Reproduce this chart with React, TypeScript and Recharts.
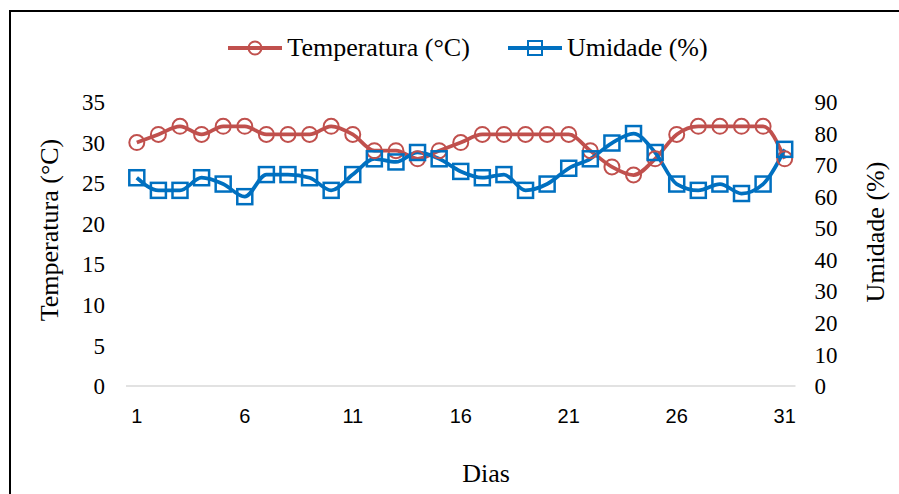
import React from 'react';
import { LineChart, Line, XAxis, YAxis, Legend } from 'recharts';

const days = ['1','2','3','4','5','6','7','8','9','10','11','12','13','14','15','16','17','18','19','20','21','22','23','24','25','26','27','28','29','30','31'];
const temperatura = [30,31,32,31,32,32,31,31,31,32,31,29,29,28,29,30,31,31,31,31,31,29,27,26,28,31,32,32,32,32,28];
const umidade = [66,62,62,66,64,60,67,67,66,62,67,72,71,74,72,68,66,67,62,64,69,72,77,80,74,64,62,64,61,64,75];
const tempTicks = [0,5,10,15,20,25,30,35];
const umidTicks = [0,10,20,30,40,50,60,70,80,90];

const data = days.map((d, i) => ({ dia: d, temperatura: temperatura[i], umidade: umidade[i] }));

const RED = '#C0504D';
const BLUE = '#0070C0';
const SERIF = '"Liberation Serif", "Times New Roman", serif';
const SANS = '"Liberation Sans", Arial, sans-serif';

const SquareDot = (props: any) => {
  const { cx, cy, index } = props;
  if (cx == null || cy == null) return <g key={`sq-${index}`} />;
  return (
    <rect key={`sq-${index}`} x={cx - 7.5} y={cy - 7.5} width={15} height={15}
      fill="none" stroke={BLUE} strokeWidth={2.5} />
  );
};

const renderLegend = () => (
  <div style={{ display: 'flex', justifyContent: 'center', alignItems: 'center', fontFamily: SERIF, fontSize: 26, lineHeight: '30px', color: '#000', paddingLeft: 18 }}>
    <svg width={54} height={20} style={{ display: 'block' }}>
      <line x1={0} y1={10} x2={54} y2={10} stroke={RED} strokeWidth={4} />
      <circle cx={27} cy={10} r={6.5} fill="none" stroke={RED} strokeWidth={2} />
    </svg>
    <span style={{ marginLeft: 5 }}>Temperatura (°C)</span>
    <svg width={54} height={20} style={{ display: 'block', marginLeft: 38 }}>
      <line x1={0} y1={10} x2={54} y2={10} stroke={BLUE} strokeWidth={4} />
      <rect x={20} y={3} width={14} height={14} fill="none" stroke={BLUE} strokeWidth={2} />
    </svg>
    <span style={{ marginLeft: 5 }}>Umidade (%)</span>
  </div>
);

export default function App() {
  return (
    <div style={{ position: 'absolute', left: 9, top: 10, width: 900, height: 500, border: '2px solid #000', boxSizing: 'border-box', background: '#fff' }}>
      <div style={{ position: 'relative', width: 896, height: 496 }}>
        <LineChart width={896} height={496} data={data} margin={{ top: 90, right: 11.5, bottom: 82, left: 15 }}>
          <XAxis dataKey="dia" interval={4} tickLine={false} tickSize={0} tickMargin={23}
            padding={{ left: 10.8, right: 10.8 }} height={40}
            axisLine={{ stroke: '#D9D9D9', strokeWidth: 1.5 }}
            tick={{ fill: '#000', fontFamily: SANS, fontSize: 20 }} />
          <YAxis yAxisId="left" orientation="left" width={100} domain={[0, 35]} ticks={tempTicks}
            axisLine={false} tickLine={false} tickSize={0} tickMargin={21}
            tick={{ fill: '#000', fontFamily: SERIF, fontSize: 23 }} />
          <YAxis yAxisId="right" orientation="right" width={100} domain={[0, 90]} ticks={umidTicks}
            axisLine={false} tickLine={false} tickSize={0} tickMargin={19}
            tick={{ fill: '#000', fontFamily: SERIF, fontSize: 23, textAnchor: 'start' }} />
          <Legend verticalAlign="middle" align="center" content={renderLegend}
            wrapperStyle={{ top: 21, left: 0, width: 896 }} />
          <Line yAxisId="left" type="monotone" dataKey="temperatura" name="Temperatura (°C)"
            stroke={RED} strokeWidth={3.75} isAnimationActive={false}
            dot={{ r: 7.5, fill: 'none', stroke: RED, strokeWidth: 2 }} activeDot={false} />
          <Line yAxisId="right" type="monotone" dataKey="umidade" name="Umidade (%)"
            stroke={BLUE} strokeWidth={3.75} isAnimationActive={false}
            dot={SquareDot} activeDot={false} />
        </LineChart>
        <svg width={896} height={496} style={{ position: 'absolute', left: 0, top: 0, pointerEvents: 'none' }}>
          <text x={38} y={218} transform="rotate(-90 38 218)" textAnchor="middle" dominantBaseline="central"
            fontFamily={SERIF} fontSize={26} fill="#000">Temperatura (°C)</text>
          <text x={864} y={220} transform="rotate(-90 864 220)" textAnchor="middle" dominantBaseline="central"
            fontFamily={SERIF} fontSize={26} fill="#000">Umidade (%)</text>
          <text x={475} y={461} textAnchor="middle" dominantBaseline="central"
            fontFamily={SERIF} fontSize={26} fill="#000">Dias</text>
        </svg>
      </div>
    </div>
  );
}
